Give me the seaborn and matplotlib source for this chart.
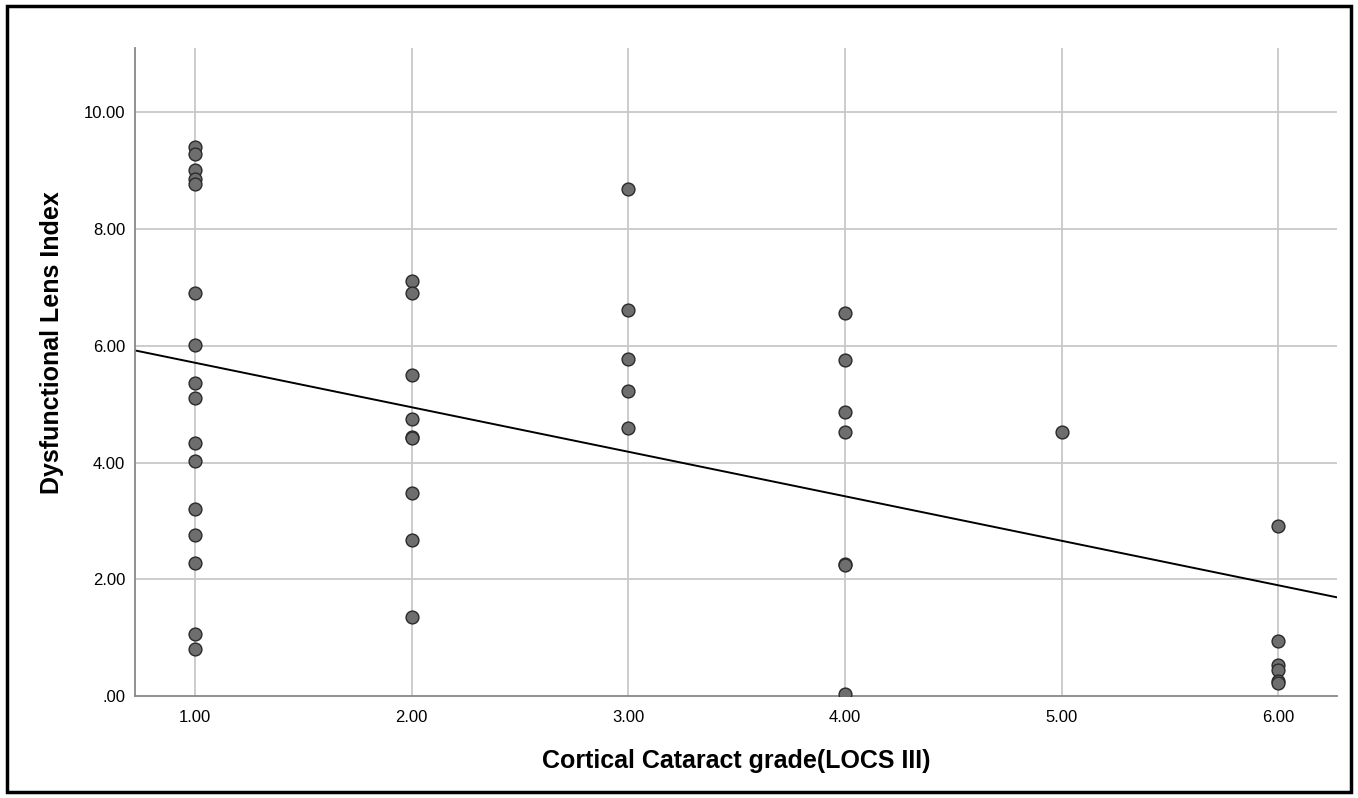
import numpy as np
import pandas as pd
import matplotlib
matplotlib.use('Agg')
import matplotlib.pyplot as plt
import seaborn as sns
from matplotlib.patches import Rectangle

# grade per point and Dysfunctional Lens Index
grade_1 = [9.40, 9.29, 9.01, 8.86, 8.77, 6.90, 6.02, 5.36, 5.10, 4.34, 4.02, 3.21, 2.76, 2.28, 1.06, 0.81]
grade_2 = [7.11, 6.91, 5.50, 4.74, 4.44, 4.42, 3.47, 2.68, 1.36]
grade_3 = [8.68, 6.61, 5.78, 5.23, 4.59]
grade_4 = [6.56, 5.75, 4.86, 4.53, 2.26, 2.24, 0.03]
grade_5 = [4.52]
grade_6 = [2.92, 0.94, 0.53, 0.45, 0.25, 0.22]

x_ticks = [1, 2, 3, 4, 5, 6]
x_tick_labels = ['1.00', '2.00', '3.00', '4.00', '5.00', '6.00']
y_ticks = [0, 2, 4, 6, 8, 10]
y_tick_labels = ['.00', '2.00', '4.00', '6.00', '8.00', '10.00']

groups = [grade_1, grade_2, grade_3, grade_4, grade_5, grade_6]
df = pd.DataFrame({
    'grade': [g for g, vals in zip(x_ticks, groups) for _ in vals],
    'dli': [v for vals in groups for v in vals],
})

sns.set_style('white')
plt.rcParams['font.family'] = ['Liberation Sans', 'DejaVu Sans']

fig = plt.figure(figsize=(13.58, 7.98), dpi=100)
ax = fig.add_axes([0.0994, 0.1278, 0.8851, 0.812])

ax.set_xlim(0.723, 6.27)
ax.set_ylim(0, 11.1)

#grid first so points sit on top
for x in x_ticks:
    ax.axvline(x, color='#c8c8c8', lw=1.3, zorder=0)
for y in y_ticks[1:]:
    ax.axhline(y, color='#c8c8c8', lw=1.3, zorder=0)

sns.regplot(data=df, x='grade', y='dli', ax=ax, ci=None, truncate=False,
            scatter_kws={'s': 85, 'color': '#6e6e6e', 'edgecolor': '#2a2a2a',
                         'linewidths': 1.0, 'alpha': 1, 'zorder': 3},
            line_kws={'color': 'black', 'lw': 1.4, 'zorder': 2})

ax.set_xticks(x_ticks)
ax.set_xticklabels(x_tick_labels)
ax.set_yticks(y_ticks)
ax.set_yticklabels(y_tick_labels)
ax.tick_params(axis='both', length=0, labelsize=12, colors='black')
ax.tick_params(axis='x', pad=10)
ax.tick_params(axis='y', pad=7)

ax.set_xlabel('Cortical Cataract grade(LOCS III)', fontsize=18, fontweight='bold',
              color='black', labelpad=17)
ax.set_ylabel('Dysfunctional Lens Index', fontsize=18, fontweight='bold', color='black')
# the label sits a bit above the middle of the axis in the original
ax.yaxis.set_label_coords(-0.059, 0.546)

for side in ['top', 'right']:
    ax.spines[side].set_visible(False)
for side in ['left', 'bottom']:
    ax.spines[side].set_color('#888888')
    ax.spines[side].set_linewidth(1.3)

#outer frame around the whole picture
fig.patches.append(Rectangle((0.005, 0.007), 0.99, 0.986, transform=fig.transFigure,
                             fill=False, edgecolor='black', lw=2.5))

plt.savefig('out.png', dpi=100)
